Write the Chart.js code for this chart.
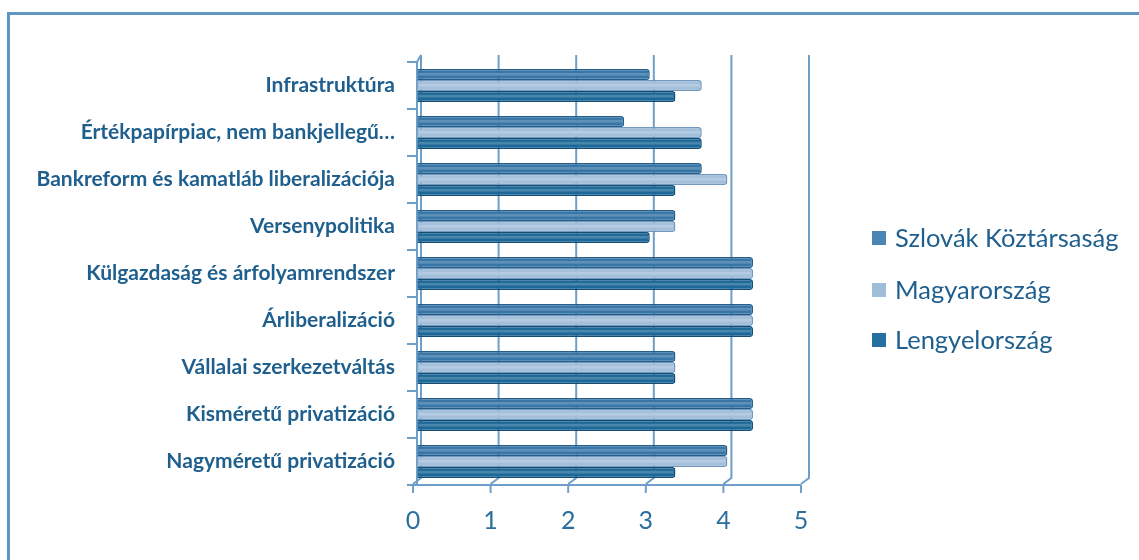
<!DOCTYPE html>
<html>
<head>
<meta charset="utf-8">
<script src="https://cdn.jsdelivr.net/npm/chart.js@4.4.1/dist/chart.umd.min.js"></script>
<style>
  html, body { margin: 0; padding: 0; background: #fff; }
  #wrap { width: 1139px; height: 560px; position: relative; }
</style>
</head>
<body>
<div id="wrap"><canvas id="myChart" width="1139" height="560"></canvas></div>
<script>
// --- DATA ---
const KATEGORIAK = [
    'Infrastruktúra',
    'Értékpapírpiac, nem bankjellegű…',
    'Bankreform és kamatláb liberalizációja',
    'Versenypolitika',
    'Külgazdaság és árfolyamrendszer',
    'Árliberalizáció',
    'Vállalai szerkezetváltás',
    'Kisméretű privatizáció',
    'Nagyméretű privatizáció'
];
const SZLOVAK = [3, 2.67, 3.67, 3.33, 4.33, 4.33, 3.33, 4.33, 4];
const MAGYAR = [3.67, 3.67, 4, 3.33, 4.33, 4.33, 3.33, 4.33, 4];
const LENGYEL = [3.33, 3.67, 3.33, 3, 4.33, 4.33, 3.33, 4.33, 3.33];
const X_TICKS = [0, 1, 2, 3, 4, 5];

const SZOVEG = '#1f5f8e';
const RACS = '#6f9fc8';
const DEPTH = 4;   // fake 3D offset

const sorozatok = [
    { label: 'Szlovák Köztársaság', data: SZLOVAK, fill: '#3776a7', border: '#245e8b', legend: '#4a86b5' },
    { label: 'Magyarország', data: MAGYAR, fill: '#a3bfda', border: '#7199c0', legend: '#9fbcd8' },
    { label: 'Lengyelország', data: LENGYEL, fill: '#1c6898', border: '#114f78', legend: '#2470a0' }
];

// back wall grid, floor and tick marks
const keret3d = {
    id: 'keret3d',
    beforeDatasetsDraw(chart) {
        const { ctx, chartArea: a, scales: { x } } = chart;
        ctx.save();
        ctx.strokeStyle = RACS;
        ctx.lineWidth = 2;
        X_TICKS.forEach(v => {
            const px = x.getPixelForValue(v);
            ctx.beginPath();
            ctx.moveTo(px + DEPTH, a.top - 7);
            ctx.lineTo(px + DEPTH, a.bottom - 7);
            ctx.lineTo(px - DEPTH, a.bottom - 1);
            ctx.stroke();
            ctx.beginPath();
            ctx.moveTo(px - DEPTH, a.bottom);
            ctx.lineTo(px - DEPTH, a.bottom + 8);
            ctx.stroke();
        });
        ctx.beginPath();
        ctx.moveTo(x.getPixelForValue(0) - DEPTH - 1, a.bottom);
        ctx.lineTo(x.getPixelForValue(5) - DEPTH, a.bottom);
        ctx.stroke();
        // small corner at top of the left wall
        ctx.beginPath();
        ctx.moveTo(a.left, a.top);
        ctx.lineTo(a.left + DEPTH, a.top - 7);
        ctx.stroke();
        ctx.restore();
    },
    afterDatasetsDraw(chart) {
        const { ctx } = chart;
        ctx.save();
        chart.data.datasets.forEach((ds, i) => {
            chart.getDatasetMeta(i).data.forEach(bar => {
                const h = bar.height;
                const x0 = Math.min(bar.base, bar.x) + 1;
                const w = Math.abs(bar.x - bar.base) - 3;
                ctx.fillStyle = 'rgba(255,255,255,0.2)';
                ctx.fillRect(x0, bar.y - h * 0.15, w, h * 0.25);
            });
        });
        ctx.restore();
    },
    afterDraw(chart) {
        const { ctx } = chart;
        ctx.save();
        // outer frame
        ctx.strokeStyle = '#5f97c2';
        ctx.lineWidth = 3;
        ctx.strokeRect(8.5, 13.5, 1200, 600);
        // legend
        const ys = [238, 290, 340];
        ctx.font = '25.5px Lato';
        ctx.textBaseline = 'middle';
        sorozatok.forEach((s, i) => {
            ctx.fillStyle = s.legend;
            ctx.fillRect(872, ys[i] - 7, 14, 14);
            ctx.fillStyle = SZOVEG;
            ctx.fillText(s.label, 895, ys[i] + 1);
        });
        ctx.restore();
    }
};

const ctx = document.getElementById('myChart').getContext('2d');
new Chart(ctx, {
    type: 'bar',
    data: {
        labels: KATEGORIAK,
        datasets: sorozatok.map(s => ({
            label: s.label,
            data: s.data,
            backgroundColor: s.fill,
            borderColor: s.border,
            borderWidth: 1.5,
            borderRadius: 3,
            borderSkipped: 'start',
            categoryPercentage: 0.7,
            barPercentage: 1.0
        }))
    },
    options: {
        indexAxis: 'y',
        responsive: false,
        animation: false,
        layout: { padding: { top: 62, right: 334, left: 0, bottom: 0 } },
        plugins: { legend: { display: false }, tooltip: { enabled: false } },
        scales: {
            x: {
                min: 0, max: 5,
                afterFit: s => { s.height = 75; },
                afterBuildTicks: s => { s.ticks = X_TICKS.map(v => ({ value: v })); },
                grid: { display: true, drawOnChartArea: false, tickLength: 8, color: 'rgba(0,0,0,0)' },
                border: { display: false },
                ticks: { color: '#2a6f9f', font: { family: 'Lato', size: 25 }, padding: 13, labelOffset: -DEPTH }
            },
            y: {
                afterFit: s => { s.width = 417; },
                grid: { display: true, drawOnChartArea: false, tickLength: 10, color: RACS, lineWidth: 2 },
                border: { display: true, color: RACS, width: 2 },
                ticks: { color: SZOVEG, font: { family: 'Lato', size: 21, weight: 'bold' }, padding: 12 }
            }
        }
    },
    plugins: [keret3d]
});
</script>
</body>
</html>
